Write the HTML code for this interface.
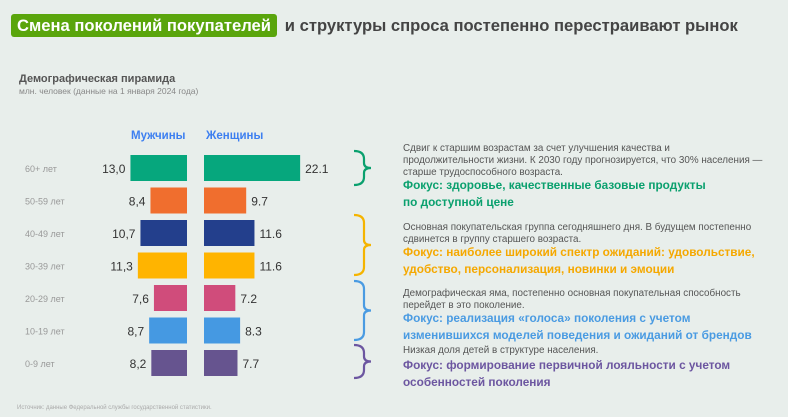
<!DOCTYPE html>
<html><head><meta charset="utf-8"><style>
body{margin:0;width:788px;height:417px;background:#e8eeeb;font-family:"Liberation Sans",sans-serif;position:relative;overflow:hidden}
.a{position:absolute;white-space:nowrap}
.d{font-size:9.85px;color:#555;line-height:12px}
.f{font-size:11.8px;font-weight:bold;line-height:17px}
</style></head><body>
<div class="a" style="left:11px;top:14px;width:266px;height:23px;background:#5aa50c;border-radius:3px"></div>
<div class="a" style="left:17px;top:14px;font-size:16.6px;font-weight:bold;line-height:23px;color:#444"><span style="color:#fff">Смена поколений покупателей</span>&nbsp;&nbsp;&nbsp;и структуры спроса постепенно перестраивают рынок</div>
<div class="a" style="left:19px;top:73px;font-size:11px;font-weight:bold;color:#555">Демографическая пирамида</div>
<div class="a" style="left:19px;top:86px;font-size:8.5px;color:#888">млн. человек (данные на 1 января 2024 года)</div>
<div class="a" style="left:131px;top:130px;font-size:11.5px;font-weight:bold;color:#3d7ff0">Мужчины</div>
<div class="a" style="left:206px;top:130px;font-size:11.5px;font-weight:bold;color:#3d7ff0">Женщины</div>
<svg id="c" class="a" style="left:0;top:0" width="788" height="417"></svg>
<div class="a d" style="left:403px;top:143px">Сдвиг к старшим возрастам за счет улучшения качества и<br>продолжительности жизни. К 2030 году прогнозируется, что 30% населения —<br>старше трудоспособного возраста.</div>
<div class="a f" style="left:403px;top:177px;color:#0aa06e">Фокус: здоровье, качественные базовые продукты<br>по доступной цене</div>
<div class="a d" style="left:403px;top:222px">Основная покупательская группа сегодняшнего дня. В будущем постепенно<br>сдвинется в группу старшего возраста.</div>
<div class="a f" style="left:403px;top:244px;color:#f5a800">Фокус: наиболее широкий спектр ожиданий: удовольствие,<br>удобство, персонализация, новинки и эмоции</div>
<div class="a d" style="left:403px;top:288px">Демографическая яма, постепенно основная покупательная способность<br>перейдет в это поколение.</div>
<div class="a f" style="left:403px;top:310px;color:#4a9be2">Фокус: реализация «голоса» поколения с учетом<br>изменившихся моделей поведения и ожиданий от брендов</div>
<div class="a d" style="left:403px;top:345px">Низкая доля детей в структуре населения.</div>
<div class="a f" style="left:403px;top:357px;color:#6c56a0">Фокус: формирование первичной лояльности с учетом<br>особенностей поколения</div>
<div class="a" style="left:17px;top:405px;font-size:6px;color:#aaa">Источник: данные Федеральной службы государственной статистики.</div>
<script>
const categories=["60+ лет","50-59 лет","40-49 лет","30-39 лет","20-29 лет","10-19 лет","0-9 лет"];
const men=[13.0,8.4,10.7,11.3,7.6,8.7,8.2];
const women=[22.1,9.7,11.6,11.6,7.2,8.3,7.7];
const menLabels=["13,0","8,4","10,7","11,3","7,6","8,7","8,2"];
const womenLabels=["22.1","9.7","11.6","11.6","7.2","8.3","7.7"];
const colors=["#06a77d","#f06e2e","#233f8c","#ffb400","#d04c7b","#4599e2","#66548f"];
const svg=document.getElementById('c');const NS='http://www.w3.org/2000/svg';
const k=4.35, mx=187, wx=204;
const y=i=>155+i*32.5;
function mk(t,a){const e=document.createElementNS(NS,t);for(const q in a)e.setAttribute(q,a[q]);svg.appendChild(e);return e;}
categories.forEach((c,i)=>{
 const yy=y(i);
 let t=mk('text',{x:25,y:yy+17,'font-size':9,fill:'#999'});t.textContent=c;
 
 
 const mw=men[i]*k;
 let r=mk('rect',{x:mx-mw,y:yy,width:mw,height:26,fill:colors[i]});
 
 
 const ww=women[i]*k;
 r=mk('rect',{x:wx,y:yy,width:ww,height:26,fill:colors[i]});
 
 
 t=mk('text',{x:mx-mw-5,y:yy+18,'font-size':12,fill:'#333','text-anchor':'end'});t.textContent=menLabels[i];
 
 
 t=mk('text',{x:wx+ww+5,y:yy+18,'font-size':12,fill:'#333'});t.textContent=womenLabels[i];
 
 
});
[[151,185,'#0aa06e'],[215,275,'#f5b400'],[281,340,'#4a9be2'],[345,378,'#6c56a0']].forEach(b=>{
 const [a,z,col]=b,m=(a+z)/2;
 const p=mk('path',{d:`M354 ${a} Q364 ${a} 364 ${a+8} L364 ${m-5} Q364 ${m} 371 ${m} Q364 ${m} 364 ${m+5} L364 ${z-8} Q364 ${z} 354 ${z}`,fill:'none',stroke:col,'stroke-width':2.2});
 
 
});
</script>
</body></html>
